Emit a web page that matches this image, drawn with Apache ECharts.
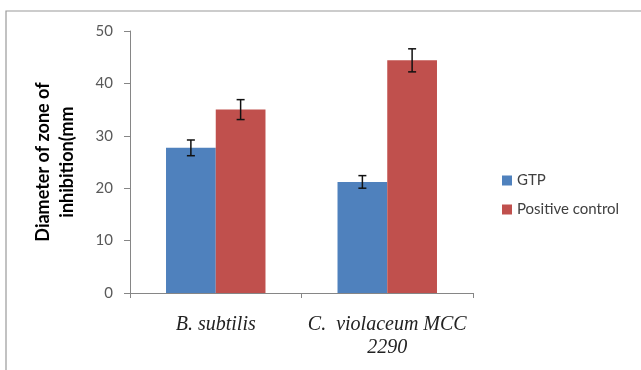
<!DOCTYPE html>
<html>
<head>
<meta charset="utf-8">
<script src="https://cdn.jsdelivr.net/npm/echarts@6/dist/echarts.min.js"></script>
<style>
  html, body { margin: 0; padding: 0; background: #fff; }
  #chart { width: 641px; height: 370px; }
</style>
</head>
<body>
<div id="chart"></div>
<script>
const categories = ['B. subtilis', 'C.  violaceum MCC\n2290'];
const gtp = [27.7, 21.2];
const gtpErr = [1.5, 1.2];
const positive = [35.0, 44.4];
const positiveErr = [1.9, 2.2];
const yTicks = [0, 10, 20, 30, 40, 50];

const gapRatio = 0.42;

function errorSeries(name, values, errs, side) {
  return {
    type: 'custom',
    name: name + ' err',
    z: 10,
    silent: true,
    data: values.map((v, i) => [i, v - errs[i], v + errs[i]]),
    renderItem(params, api) {
      const catW = api.size([1, 0])[0];
      const barW = catW * (1 - gapRatio) / 2;
      const lo = api.coord([api.value(0), api.value(1)]);
      const hi = api.coord([api.value(0), api.value(2)]);
      const x = lo[0] + side * barW / 2;
      const cap = 4;
      const style = { stroke: '#111', lineWidth: 1.5 };
      return {
        type: 'group',
        children: [
          { type: 'line', shape: { x1: x, y1: lo[1], x2: x, y2: hi[1] }, style },
          { type: 'line', shape: { x1: x - cap, y1: lo[1], x2: x + cap, y2: lo[1] }, style },
          { type: 'line', shape: { x1: x - cap, y1: hi[1], x2: x + cap, y2: hi[1] }, style }
        ]
      };
    }
  };
}

const chart = echarts.init(document.getElementById('chart'));
chart.setOption({
  animation: false,
  graphic: [{
    type: 'rect',
    shape: { x: 6, y: 11, width: 700, height: 420 },
    style: { fill: 'none', stroke: '#9a9a9a', lineWidth: 1.2 },
    silent: true
  }],
  grid: { left: 130, right: 168, top: 31, bottom: 77 },
  legend: {
    orient: 'vertical',
    left: 497,
    top: 168,
    itemWidth: 10,
    itemHeight: 10,
    itemGap: 14,
    icon: 'rect',
    textStyle: { fontFamily: 'Lato', fontSize: 15, color: '#404040' },
    data: ['GTP', 'Positive control']
  },
  xAxis: {
    type: 'category',
    data: categories,
    axisLine: { lineStyle: { color: '#868686', width: 1 } },
    axisTick: { show: true, length: 5, lineStyle: { color: '#868686' } },
    axisLabel: {
      interval: 0,
      margin: 20,
      fontFamily: 'Liberation Serif',
      fontStyle: 'italic',
      fontSize: 20,
      lineHeight: 23,
      color: '#222'
    }
  },
  yAxis: {
    type: 'value',
    min: yTicks[0],
    max: yTicks[yTicks.length - 1],
    interval: 10,
    name: 'Diameter of zone of\ninhibition(mm',
    nameLocation: 'middle',
    nameGap: 51,
    nameTextStyle: {
      fontFamily: 'Lato',
      fontWeight: 'bold',
      fontSize: 18,
      lineHeight: 24,
      color: '#000'
    },
    axisLine: { show: true, lineStyle: { color: '#868686', width: 1 } },
    axisTick: { show: true, length: 6, inside: false, lineStyle: { color: '#868686' } },
    splitLine: { show: false },
    axisLabel: {
      margin: 17,
      fontFamily: 'Lato',
      fontSize: 15,
      color: '#595959'
    }
  },
  series: [
    {
      type: 'bar',
      name: 'GTP',
      data: gtp,
      barGap: '0%',
      barCategoryGap: (gapRatio * 100) + '%',
      itemStyle: { color: '#4f81bd' }
    },
    {
      type: 'bar',
      name: 'Positive control',
      data: positive,
      itemStyle: { color: '#c0504d' }
    },
    errorSeries('GTP', gtp, gtpErr, -1),
    errorSeries('Positive control', positive, positiveErr, 1)
  ]
});
</script>
</body>
</html>
